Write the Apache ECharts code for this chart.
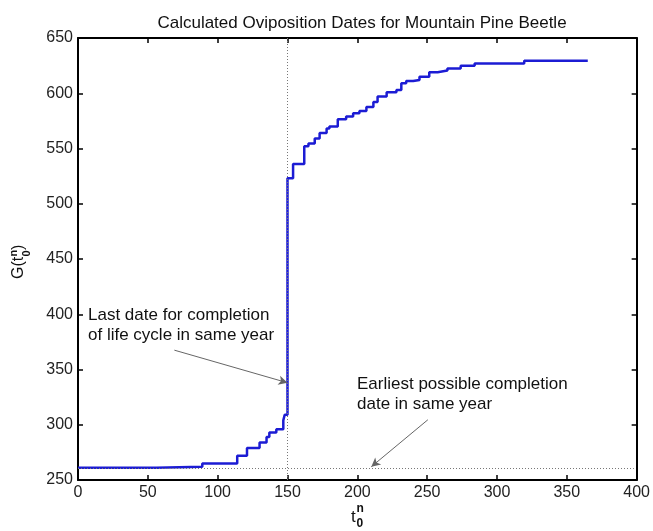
<!DOCTYPE html>
<html>
<head>
<meta charset="utf-8">
<script src="https://cdn.jsdelivr.net/npm/echarts@6/dist/echarts.min.js"></script>
<style>html,body{margin:0;padding:0;background:#fff}#c{width:653px;height:531px}</style>
</head>
<body>
<div id="c"></div>
<script>
// ---- data ----
const tValues = [0, 56, 89, 114, 121, 130, 135, 137, 142, 147, 148, 150, 154, 162, 165, 169.5, 173, 178, 180, 186, 192, 197, 201.5, 206.5, 211.5, 214.5, 221, 228, 231.5, 235, 240, 244.5, 251.5, 257.5, 264.5, 274, 284, 319.5, 365];
const gValues = [261, 262, 265, 272, 279, 284, 289, 293, 296, 304, 309, 523, 536, 552, 554.5, 559, 564, 568, 570, 576.5, 579, 582, 584, 587.5, 592, 597, 601, 603, 609, 611, 612, 615, 619, 620.5, 622.5, 625, 627, 629.5, 629.5];
const refLastDate = 150;           // vertical dotted line
const refEarliest = 261;           // horizontal dotted line
const refEarliestSpan = [0, 398];
const arrow1 = [[69, 367.5], [150, 338]];
const arrow2 = [[250.5, 304.5], [210, 262]];
const xTicks = {min: 0, max: 400, interval: 50};
const yTicks = {min: 250, max: 650, interval: 50};
const titleText = 'Calculated Oviposition Dates for Mountain Pine Beetle';
const note1 = ['Last date for completion', 'of life cycle in same year'];
const note2 = ['Earliest possible completion', 'date in same year'];

const FONT = 'Liberation Sans, Arial, sans-serif';
const chart = echarts.init(document.getElementById('c'), null, {renderer: 'canvas'});

const lineData = tValues.map((t, i) => [t, gValues[i]]);

const axisCommon = {
  type: 'value',
  axisLine: {show: true, onZero: false, lineStyle: {color: '#000', width: 2}},
  axisTick: {show: true, inside: true, length: 5, lineStyle: {color: '#000', width: 1.5}},
  splitLine: {show: false},
};

chart.setOption({
  animation: false,
  backgroundColor: '#fff',
  title: {
    text: titleText, left: 357, top: 10, textAlign: 'center',
    textStyle: {fontFamily: FONT, fontSize: 17, fontWeight: 'normal', color: '#111'}
  },
  grid: {left: 78, right: 13, top: 38, bottom: 51},
  xAxis: [
    Object.assign({}, axisCommon, xTicks, {position: 'bottom',
      axisLabel: {fontFamily: FONT, fontSize: 16, color: '#222', margin: 5}}),
    Object.assign({}, axisCommon, xTicks, {position: 'top', axisLabel: {show: false}})
  ],
  yAxis: [
    Object.assign({}, axisCommon, yTicks, {position: 'left',
      axisLabel: {fontFamily: FONT, fontSize: 16, color: '#222', margin: 5}}),
    Object.assign({}, axisCommon, yTicks, {position: 'right', axisLabel: {show: false}})
  ],
  series: [
    {
      type: 'line', data: [], z: 1, silent: true,
      markLine: {
        silent: true, symbol: ['none', 'none'], label: {show: false},
        lineStyle: {type: [1, 2], color: '#777', width: 1},
        data: [
          {xAxis: refLastDate},
          [{coord: [refEarliestSpan[0], refEarliest]}, {coord: [refEarliestSpan[1], refEarliest]}]
        ]
      }
    },
    {
      type: 'line', data: lineData, step: 'end', showSymbol: false, z: 3,
      lineStyle: {color: '#1c1cd4', width: 2.5}
    },
    {
      type: 'line', data: [], z: 4, silent: true,
      markLine: {
        silent: true, symbol: ['none', 'arrow'], symbolSize: [7, 9], label: {show: false},
        lineStyle: {type: 'solid', color: '#666', width: 1},
        itemStyle: {color: '#111'},
        data: [
          [{coord: arrow1[0]}, {coord: arrow1[1], itemStyle: {color: '#111'}}],
          [{coord: arrow2[0]}, {coord: arrow2[1], itemStyle: {color: '#111'}}]
        ]
      }
    }
  ],
  graphic: [
    {type: 'text', left: 88, top: 305, style: {text: note1.join('\n'), font: '17px ' + FONT, fill: '#111', lineHeight: 20}},
    {type: 'text', left: 357, top: 374, style: {text: note2.join('\n'), font: '17px ' + FONT, fill: '#111', lineHeight: 20}},
    // x axis name t_0^n
    {type: 'group', x: 351, y: 0, children: [
      {type: 'text', x: 0, y: 509, style: {text: 't', font: '17px ' + FONT, fill: '#111'}},
      {type: 'text', x: 5.5, y: 503, style: {text: 'n', font: 'bold 12px ' + FONT, fill: '#111'}},
      {type: 'text', x: 5.5, y: 518, style: {text: '0', font: 'bold 12px ' + FONT, fill: '#111'}}
    ]},
    // y axis name G(t_0^n)
    {type: 'group', x: 11, y: 279, rotation: Math.PI / 2, children: [
      {type: 'text', x: 0, y: 0, style: {text: 'G(t', font: '16px ' + FONT, fill: '#111'}},
      {type: 'text', x: 22.5, y: -3, style: {text: 'n', font: 'bold 11px ' + FONT, fill: '#111'}},
      {type: 'text', x: 22.5, y: 10, style: {text: '0', font: 'bold 11px ' + FONT, fill: '#111'}},
      {type: 'text', x: 29, y: 0, style: {text: ')', font: '16px ' + FONT, fill: '#111'}}
    ]}
  ]
});
</script>
</body>
</html>
